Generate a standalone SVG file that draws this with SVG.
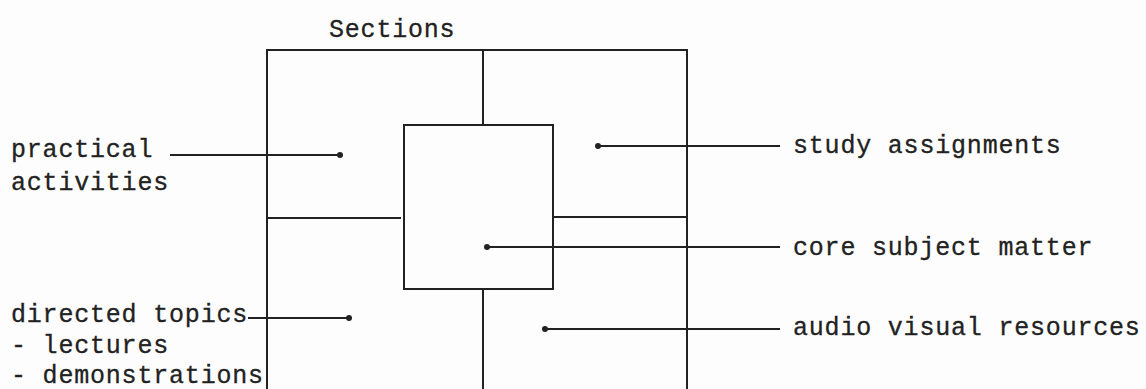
<svg xmlns="http://www.w3.org/2000/svg" width="1146" height="389" viewBox="0 0 1146 389">
<style>
.ln{stroke:#222;stroke-width:2;fill:none;stroke-linecap:square}
.t{font-family:"Liberation Mono","DejaVu Sans Mono",monospace;font-size:25px;fill:#222;letter-spacing:0.8px;stroke:#222;stroke-width:0.3px}
.dot{fill:#222}
</style>
<rect width="1146" height="389" fill="#fdfdfd"/>
<g id="frame">
<text class="t" x="329" y="37">Sections</text>
<polyline class="ln" points="267,400 267,50 687,50 687,400"/>
<line class="ln" x1="483" y1="50" x2="483" y2="125"/>
<line class="ln" x1="483" y1="289" x2="483" y2="400"/>
<line class="ln" x1="267" y1="218" x2="400" y2="218"/>
<line class="ln" x1="553" y1="217" x2="687" y2="217"/>
</g>
<g id="core">
<rect class="ln" x="404" y="125" width="149" height="164"/>
</g>
<g id="practical-activities">
<text class="t" x="11" y="157">practical</text>
<text class="t" x="11" y="190">activities</text>
</g>
<g id="directed-topics">
<text class="t" x="11" y="322">directed topics</text>
<text class="t" x="11" y="353">- lectures</text>
<text class="t" x="11" y="383">- demonstrations</text>
</g>
<g id="study-assignments">
<text class="t" x="793" y="153">study assignments</text>
</g>
<g id="core-subject-matter">
<text class="t" x="793" y="255">core subject matter</text>
</g>
<g id="audio-visual-resources">
<text class="t" x="793" y="335">audio visual resources</text>
</g>
<g id="connectors">
<line class="ln" x1="171" y1="155" x2="340" y2="155"/>
<circle class="dot" cx="340" cy="155" r="3"/>
<line class="ln" x1="249" y1="318" x2="349" y2="318"/>
<circle class="dot" cx="349" cy="318" r="3"/>
<line class="ln" x1="598" y1="146" x2="779" y2="146"/>
<circle class="dot" cx="598" cy="146" r="3"/>
<line class="ln" x1="487" y1="247" x2="779" y2="247"/>
<circle class="dot" cx="487" cy="247" r="3"/>
<line class="ln" x1="545" y1="329" x2="779" y2="329"/>
<circle class="dot" cx="545" cy="329" r="3"/>
</g>
</svg>
